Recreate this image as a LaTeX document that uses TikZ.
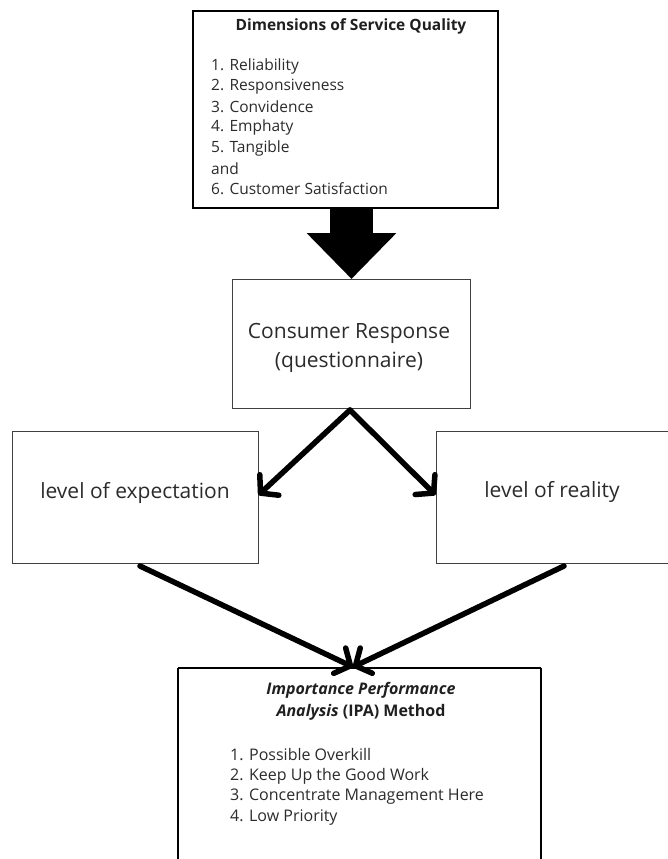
\documentclass[tikz,border=0pt]{standalone}
\usepackage{fontspec}
\setmainfont{Open Sans}
\usetikzlibrary{arrows.meta,calc}
\definecolor{txt}{HTML}{2B2B2B}
\begin{document}
\begin{tikzpicture}[x=1pt,y=-1pt,
  thickbox/.style={draw=black,line width=2pt,inner sep=0pt},
  plainbox/.style={draw=black!75,line width=1pt,inner sep=0pt},
  listtxt/.style={anchor=west,inner sep=0pt,text=txt,font=\fontsize{15.5}{17}\selectfont},
  listtxtb/.style={anchor=west,inner sep=0pt,text=txt,font=\fontsize{16}{18}\selectfont},
  headtxt/.style={inner sep=0pt,text=black!88,font=\fontsize{15.5}{17}\selectfont\bfseries},
  bigtxt/.style={text=txt,font=\fontsize{21}{24}\selectfont,inner sep=0pt},
  conn/.style={line width=5.5pt,line cap=round,-{Straight Barb[length=12pt,width=28pt,line cap=round,line join=round]}}]
\useasboundingbox (0,0) rectangle (668,859);
% boxes
\draw[thickbox] (193,11) rectangle (498,208);
\node[inner sep=0pt,minimum width=305pt,minimum height=197pt] (top) at (345.5,109.5) {};
\node[plainbox,minimum width=238pt,minimum height=129pt] (cons) at (351,343.5) {};
\node[plainbox,minimum width=246pt,minimum height=132pt] (exp) at (135,497) {};
\node[plainbox,minimum width=240pt,minimum height=132pt] (real) at (556,497) {};
\draw[thickbox] (178,668) -- (178,870) (541,668) -- (541,870) (178,668) -- (541,668);
\node[inner sep=0pt,minimum width=363pt,minimum height=200pt] (ipa) at (359.5,768) {};
% top texts
\node[headtxt] (t0) at (351,26) {Dimensions of Service Quality};
\node[listtxt] (t1) at (211,66) {1. Reliability};
\node[listtxt] (t2) at (211,86.5) {2. Responsiveness};
\node[listtxt] (t3) at (211,107) {3. Convidence};
\node[listtxt] (t4) at (211,127.5) {4. Emphaty};
\node[listtxt] (t5) at (211,148) {5. Tangible};
\node[listtxt] (t6) at (211,168.5) {and};
\node[listtxt] (t7) at (211,189) {6. Customer Satisfaction};
% consumer
\node[bigtxt] (c1) at (349,333) {Consumer Response};
\node[bigtxt] (c2) at (349,362) {(questionnaire)};
\node[bigtxt] (e1) at (135,493) {level of expectation};
\node[bigtxt] (r1) at (552,492) {level of reality};
% ipa texts
\node[headtxt,font=\fontsize{16}{18}\selectfont\bfseries] (i1) at (361,690) {\itshape Importance Performance};
\node[headtxt,font=\fontsize{16}{18}\selectfont\bfseries] (i2) at (361,712) {{\itshape Analysis} (IPA) Method};
\node[listtxtb] (p1) at (230,755) {1. Possible Overkill};
\node[listtxtb] (p2) at (230,776) {2. Keep Up the Good Work};
\node[listtxtb] (p3) at (230,797) {3. Concentrate Management Here};
\node[listtxtb] (p4) at (230,818) {4. Low Priority};
% connectors
\coordinate (ts) at (351.5,209);
\coordinate (cn) at (351.5,279);
\draw[line width=43pt,-{Triangle[length=46pt,width=87pt]}] (ts) -- (cn);
\coordinate (cs) at (350,410);
\coordinate (el) at (exp.east |- 0,495);
\coordinate (rl) at (real.west |- 0,495);
\draw[conn] (cs) -- (el);
\draw[conn] (cs) -- (rl);
\coordinate (es) at (140,566);
\coordinate (rs) at (564,566);
\coordinate (in) at (353,667);
\draw[conn] (es) -- (in);
\draw[conn] (rs) -- (in);
\end{tikzpicture}
\end{document}
